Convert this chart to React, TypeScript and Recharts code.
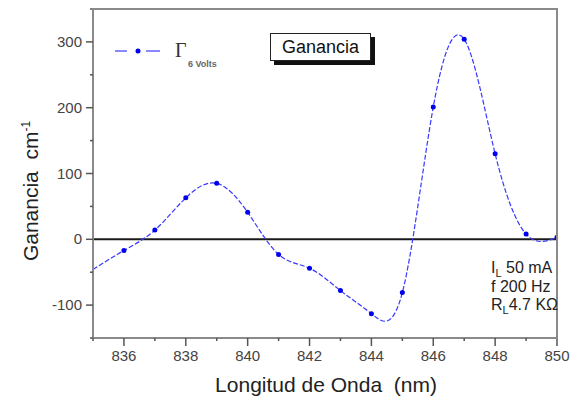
import React from "react";
import { LineChart, Line, XAxis, YAxis, ReferenceLine, Legend } from "recharts";

const wavelength = [835, 836, 837, 838, 839, 840, 841, 842, 843, 844, 845, 846, 847, 848, 849, 850];
const gain = [-46, -17, 14, 63, 85, 41, -23, -44, -78, -113, -81, 201, 304, 130, 8, 3];
const xTicks = [835, 836, 837, 838, 839, 840, 841, 842, 843, 844, 845, 846, 847, 848, 849, 850];
const xLabels = [836, 838, 840, 842, 844, 846, 848, 850];
const yTicks = [-150, -100, -50, 0, 50, 100, 150, 200, 250, 300, 350];
const yLabels = [-100, 0, 100, 200, 300];

const data = wavelength.map((w, i) => ({ w, g: gain[i] }));

const FONT = "'Liberation Sans', Arial, sans-serif";
const FRAME = "#8a8a8a";
const BLUE = "#3838ff";

// plot box (matches margins + axis sizes below)
const M = { top: 9, right: 15, bottom: 30, left: 0 };
const Y_W = 93;
const X_H = 30;
const W = 572;
const H = 398;

function XTick(props: any) {
  const { x, y, payload } = props;
  const major = xLabels.includes(payload.value);
  return (
    <g>
      <line x1={x} x2={x} y1={y} y2={y + (major ? 8 : 3)} stroke="#555" strokeWidth={1.5} />
      {major && (
        <text x={x} y={y + 23} textAnchor="middle" fontSize={15} fill="#444" fontFamily={FONT}>
          {payload.value}
        </text>
      )}
    </g>
  );
}

function YTick(props: any) {
  const { x, y, payload } = props;
  const major = yLabels.includes(payload.value);
  return (
    <g>
      <line x1={x} x2={x - (major ? 7 : 3)} y1={y} y2={y} stroke="#555" strokeWidth={1.5} />
      {major && (
        <text x={x - 11} y={y + 5} textAnchor="end" fontSize={15} fill="#444" fontFamily={FONT}>
          {payload.value}
        </text>
      )}
    </g>
  );
}

function LegendBox() {
  return (
    <svg width={140} height={36} style={{ display: "block" }}>
      <line x1={5} x2={17} y1={15} y2={15} stroke={BLUE} strokeWidth={1.2} />
      <line x1={36} x2={50} y1={15} y2={15} stroke={BLUE} strokeWidth={1.2} />
      <circle cx={28} cy={15} r={2.5} fill="#0000ee" />
      <text x={65} y={21} fontSize={20} fontFamily="'Liberation Serif', serif" fill="#333">
        Γ
      </text>
      <text x={78} y={31} fontSize={9} fontWeight="bold" fontFamily={FONT} fill="#666">
        6 Volts
      </text>
    </svg>
  );
}

function Dot(props: any) {
  const { cx, cy, payload, index } = props;
  if (payload.w === 835) return <g key={`d${index}`} />;
  return <circle key={`d${index}`} cx={cx} cy={cy} r={2.5} fill="#0000ee" />;
}

export default function App() {
  const px = M.left + Y_W;
  const py = M.top;
  const pw = W - M.right - px;
  const ph = H - M.bottom - X_H - py;
  return (
    <div style={{ position: "absolute", left: 0, top: 0, width: W, height: H, background: "#fff" }}>
      <LineChart width={W} height={H} data={data} margin={M}>
        <XAxis
          dataKey="w"
          type="number"
          domain={[835, 850]}
          ticks={xTicks}
          interval={0}
          tickSize={0}
          tickMargin={0}
          tickLine={false}
          tick={<XTick />}
          height={X_H}
          axisLine={{ stroke: FRAME, strokeWidth: 2 }}
          allowDataOverflow
        />
        <YAxis
          type="number"
          domain={[-150, 350]}
          ticks={yTicks}
          interval={0}
          tickSize={0}
          tickMargin={0}
          tickLine={false}
          tick={<YTick />}
          width={Y_W}
          axisLine={{ stroke: FRAME, strokeWidth: 2 }}
          allowDataOverflow
        />
        <ReferenceLine y={0} stroke="#1a1a1a" strokeWidth={2} />
        <Line
          type="natural"
          dataKey="g"
          stroke={BLUE}
          strokeWidth={1.2}
          strokeDasharray="5 2"
          dot={Dot}
          isAnimationActive={false}
        />
        <Legend
          layout="vertical"
          align="center"
          verticalAlign="middle"
          content={() => <LegendBox />}
          wrapperStyle={{ left: 110, top: 36, width: 140, height: 36 }}
        />
        <text
          x={38}
          y={191}
          transform="rotate(-90, 38, 191)"
          textAnchor="middle"
          fontSize={21}
          fontFamily={FONT}
          fill="#222"
          style={{ whiteSpace: "pre" }}
        >
          <tspan>Ganancia  cm</tspan>
          <tspan dy={-8} fontSize={12}>-1</tspan>
        </text>
        <text
          x={326}
          y={392}
          textAnchor="middle"
          fontSize={21}
          fontFamily={FONT}
          fill="#222"
          style={{ whiteSpace: "pre" }}
        >
          Longitud de Onda  (nm)
        </text>
      </LineChart>
      {/* top and right edges of the plot frame */}
      <div
        style={{
          position: "absolute",
          left: px - 1,
          top: py - 1,
          width: pw + 2,
          height: ph + 2,
          boxSizing: "border-box",
          borderTop: `2px solid ${FRAME}`,
          borderRight: `2px solid ${FRAME}`,
          pointerEvents: "none",
        }}
      />
      <div
        style={{
          position: "absolute",
          left: 270,
          top: 33,
          width: 99,
          height: 26,
          border: "1px solid #222",
          background: "#fff",
          boxShadow: "4px 4px 0 #111",
          fontFamily: FONT,
          fontSize: 18,
          lineHeight: "26px",
          textAlign: "center",
          color: "#111",
        }}
      >
        Ganancia
      </div>
      <div
        style={{
          position: "absolute",
          left: 491,
          top: 259,
          fontFamily: FONT,
          fontSize: 16,
          lineHeight: "18.5px",
          color: "#222",
          whiteSpace: "pre",
        }}
      >
        <div>
          I<sub style={{ fontSize: 11, verticalAlign: -4, lineHeight: 0 }}>L</sub> 50 mA
        </div>
        <div>f 200 Hz</div>
        <div>
          R<sub style={{ fontSize: 11, verticalAlign: -4, lineHeight: 0 }}>L</sub>4.7 KΩ
        </div>
      </div>
    </div>
  );
}
